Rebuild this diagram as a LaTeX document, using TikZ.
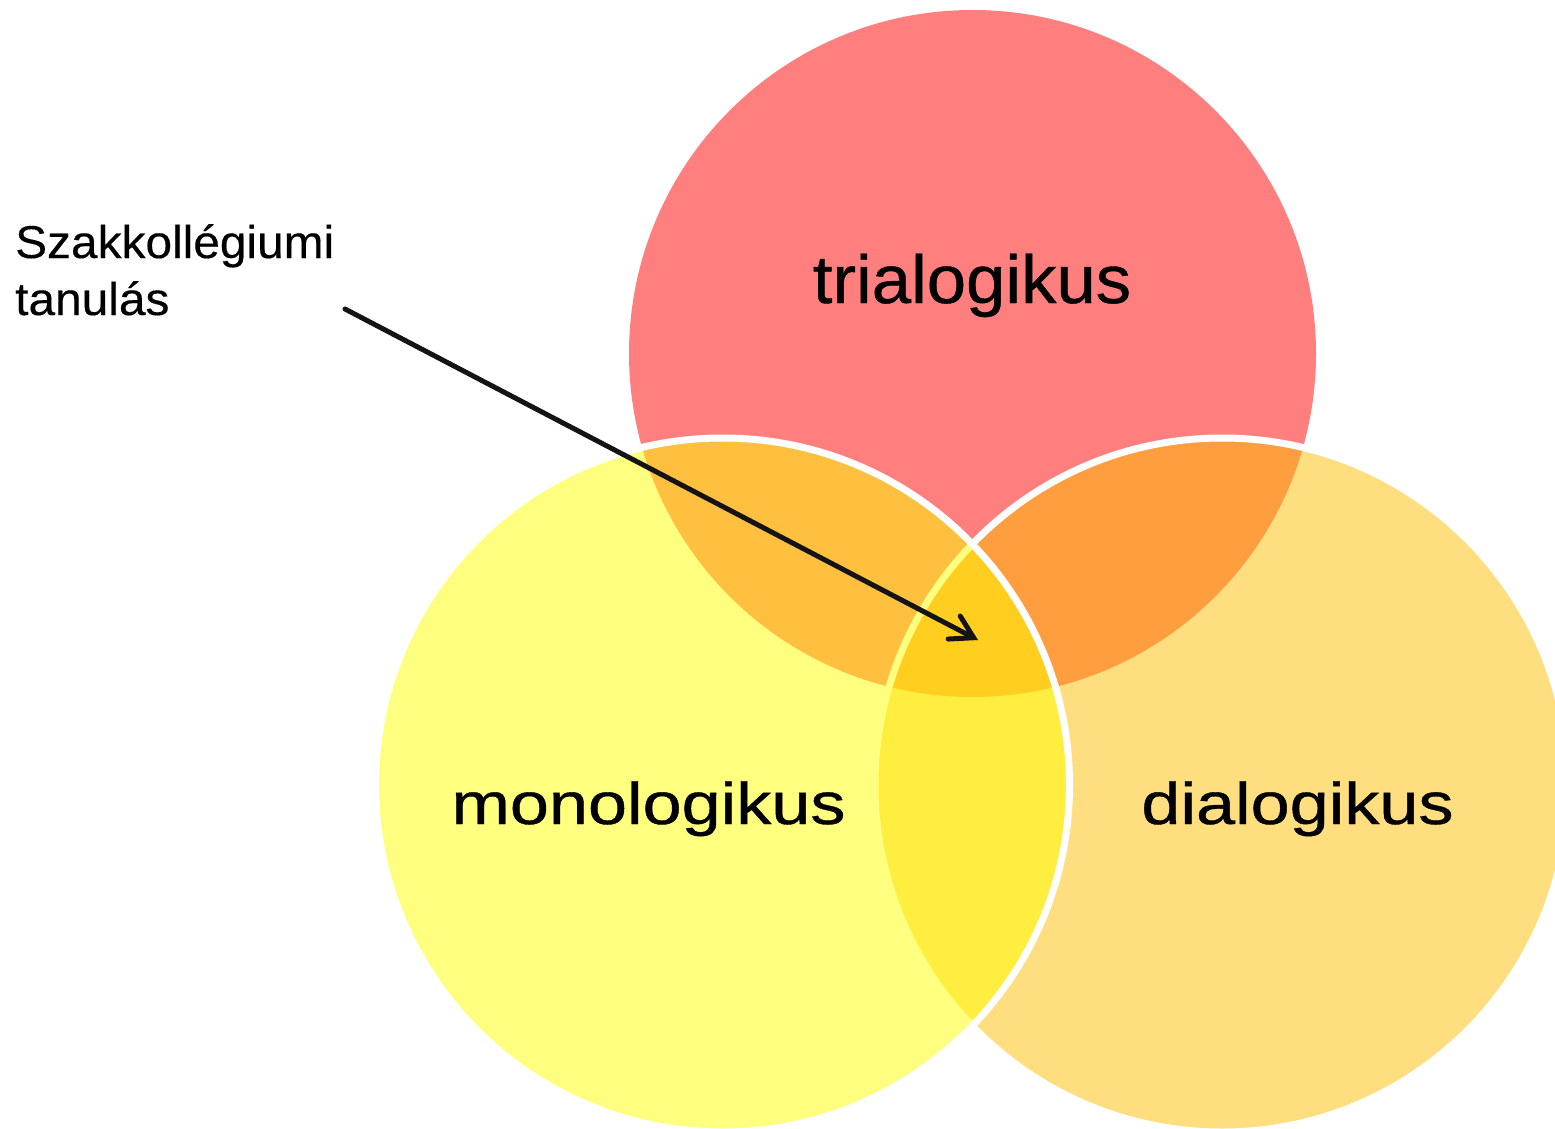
\documentclass[tikz,border=0pt]{standalone}
\usepackage{fontspec}
\setmainfont{Liberation Sans}
\usetikzlibrary{arrows.meta}
\definecolor{cRed}{HTML}{FF0000}
\definecolor{cYel}{HTML}{FFFF00}
\definecolor{cOra}{HTML}{FFBD00}
\tikzset{
  venn/.style={circle, inner sep=0pt, outer sep=0pt, fill opacity=0.5, draw opacity=1, text opacity=1},
  vennb/.style={venn, draw=white, line width=7pt},
  biglab/.style={inner sep=0pt, anchor=base, font=\fontsize{59}{70}\selectfont\addfontfeature{FakeBold=0.6}, text=black},
  smalllab/.style={inner sep=0pt, anchor=base west, align=left, font=\fontsize{46}{57}\selectfont\addfontfeature{FakeBold=0.3}, text=black, xscale=1.04},
  pointer/.style={line width=5pt, draw=black!92, line cap=round, -{Straight Barb[length=22pt,width=26pt,line width=5pt,line cap=round]}}
}
\begin{document}
\begin{tikzpicture}[x=1pt,y=-1pt]
\useasboundingbox (0,0) rectangle (1555,1129);
\begin{scope}
\clip (0,0) rectangle (1555,1129);
\node[venn, fill=cRed, minimum size=687pt] (T) at (972.5,353.5) {};
\node[vennb, fill=cOra, minimum size=694pt] (R) at (1222,785) {};
\node[vennb, fill=cYel, minimum size=694pt] (L) at (722.5,785) {};
\end{scope}
\node[biglab, font=\fontsize{68}{80}\selectfont\addfontfeature{FakeBold=0.6}, xscale=1.04] (tl) at (972,303) {trialogikus};
\node[biglab, xscale=1.19] (ml) at (648.5,824) {monologikus};
\node[biglab, xscale=1.19] (dl) at (1297.5,824) {dialogikus};
\node[smalllab] (sz) at (15,315) {Szakkollégiumi\\tanulás};
\coordinate (as) at (345,309);
\coordinate (ae) at (978,640);
\draw[pointer] (as) -- (ae);
\end{tikzpicture}
\end{document}
